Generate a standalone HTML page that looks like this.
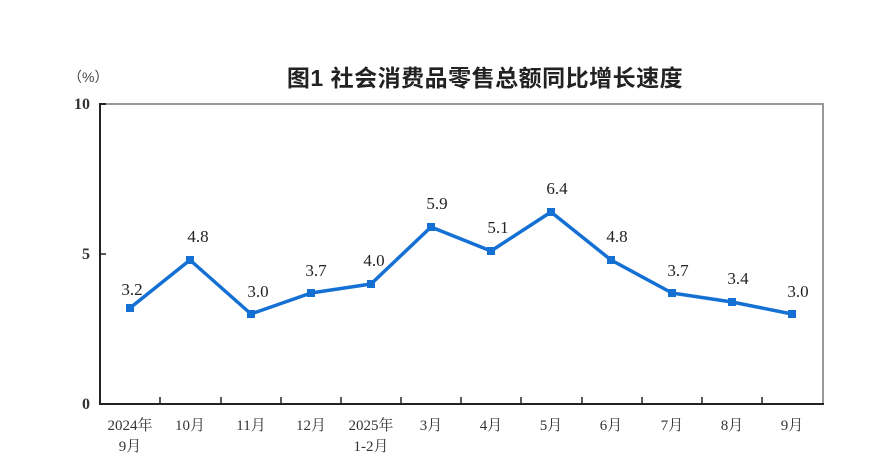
<!DOCTYPE html>
<html><head><meta charset="utf-8"><style>
body{margin:0;background:#fff;}
svg text{font-family:"Liberation Serif","Noto Serif CJK SC",serif;}
</style></head><body>
<svg width="894" height="470" xmlns="http://www.w3.org/2000/svg">
<text x="485" y="86" text-anchor="middle" font-size="23" font-weight="bold" fill="#222" letter-spacing="0.5" style="font-family:'Liberation Sans','Noto Sans CJK SC',sans-serif">图1  社会消费品零售总额同比增长速度</text>
<text x="68" y="82" font-size="14" fill="#444" style="font-family:'Liberation Sans','Noto Sans CJK SC',sans-serif">（%）</text>
<line x1="100" y1="104" x2="824" y2="104" stroke="#999" stroke-width="2"/>
<line x1="823" y1="104" x2="823" y2="404" stroke="#999" stroke-width="2"/>
<line x1="100" y1="103" x2="100" y2="405" stroke="#222" stroke-width="2"/>
<line x1="99" y1="404" x2="824" y2="404" stroke="#222" stroke-width="2"/>
<line x1="100" y1="104" x2="106" y2="104" stroke="#222" stroke-width="2"/>
<line x1="100" y1="254" x2="106" y2="254" stroke="#222" stroke-width="1.5"/>
<g stroke="#222" stroke-width="1.5">
<line x1="160" y1="404" x2="160" y2="397"/><line x1="221" y1="404" x2="221" y2="397"/><line x1="281" y1="404" x2="281" y2="397"/><line x1="341" y1="404" x2="341" y2="397"/><line x1="401" y1="404" x2="401" y2="397"/><line x1="461" y1="404" x2="461" y2="397"/><line x1="521" y1="404" x2="521" y2="397"/><line x1="582" y1="404" x2="582" y2="397"/><line x1="642" y1="404" x2="642" y2="397"/><line x1="702" y1="404" x2="702" y2="397"/><line x1="762" y1="404" x2="762" y2="397"/>
</g>
<g font-size="16" fill="#333" text-anchor="end" font-weight="bold">
<text x="90" y="109">10</text><text x="90" y="259">5</text><text x="90" y="409">0</text>
</g>
<polyline fill="none" stroke="#1570d4" stroke-width="3.5" stroke-linejoin="round" points="130,308 190,260 251,314 311,293 371,284 431,227 491,251 551,212 611,260 672,293 732,302 792,314"/>
<g fill="#1570d4">
<rect x="126" y="304" width="8" height="8"/><rect x="186" y="256" width="8" height="8"/><rect x="247" y="310" width="8" height="8"/><rect x="307" y="289" width="8" height="8"/><rect x="367" y="280" width="8" height="8"/><rect x="427" y="223" width="8" height="8"/><rect x="487" y="247" width="8" height="8"/><rect x="547" y="208" width="8" height="8"/><rect x="607" y="256" width="8" height="8"/><rect x="668" y="289" width="8" height="8"/><rect x="728" y="298" width="8" height="8"/><rect x="788" y="310" width="8" height="8"/>
</g>
<g font-size="17" fill="#222" text-anchor="middle">
<text x="132" y="295">3.2</text><text x="198" y="242">4.8</text><text x="258" y="297">3.0</text><text x="316" y="276">3.7</text><text x="374" y="266">4.0</text><text x="437" y="209">5.9</text><text x="498" y="233">5.1</text><text x="557" y="194">6.4</text><text x="617" y="242">4.8</text><text x="678" y="276">3.7</text><text x="738" y="284">3.4</text><text x="798" y="297">3.0</text>
</g>
<g font-size="15" fill="#333" text-anchor="middle">
<text x="130" y="430">2024年</text><text x="130" y="451">9月</text>
<text x="190" y="430">10月</text><text x="251" y="430">11月</text><text x="311" y="430">12月</text>
<text x="371" y="430">2025年</text><text x="371" y="451">1-2月</text>
<text x="431" y="430">3月</text><text x="491" y="430">4月</text><text x="551" y="430">5月</text><text x="611" y="430">6月</text><text x="672" y="430">7月</text><text x="732" y="430">8月</text><text x="792" y="430">9月</text>
</g>
</svg>
</body></html>
